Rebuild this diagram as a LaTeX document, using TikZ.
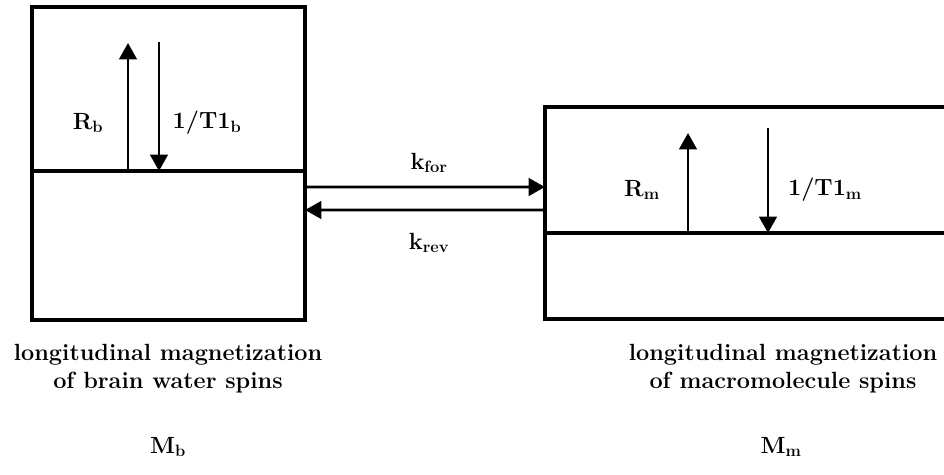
\documentclass[tikz,border=0pt]{standalone}
\usepackage{tikz}
\usetikzlibrary{arrows.meta, positioning, calc}

\tikzset{
    pool/.style={draw, line width=3.2pt, inner sep=0pt, outer sep=0pt},
    rate/.style={line width=2.4pt, -{Triangle[width=15pt, length=14pt]}},
    lbl/.style={font=\fontsize{20}{24}\selectfont\bfseries}
}

\begin{document}
\begin{tikzpicture}[x=0.03cm, y=-0.03cm]
    \useasboundingbox (0,0) rectangle (944,475);

    % Brain water pool (left)
    \node[pool, minimum width=8.19cm, minimum height=4.92cm] (bwup) at (168.5,89) {};
    \node[pool, minimum width=8.19cm, minimum height=4.47cm] (bwlow) at (168.5,245.5) {};
    \coordinate (rb0) at (128,171);
    \coordinate (rb1) at (128,43);
    \coordinate (tb0) at (159,42);
    \coordinate (tb1) at (159,171);
    \draw[rate] (rb0) -- (rb1);
    \draw[rate] (tb0) -- (tb1);
    \node[lbl] (rblbl) at (88,123) {R\textsubscript{b}};
    \node[lbl] (tblbl) at (207,123) {1/T1\textsubscript{b}};

    % Macromolecule pool (right) - runs off the right edge
    \node[pool, minimum width=12.3cm, minimum height=3.78cm] (mmup) at (750,170) {};
    \node[pool, minimum width=12.3cm, minimum height=2.58cm] (mmlow) at (750,276) {};
    \coordinate (rm0) at (688,233);
    \coordinate (rm1) at (688,133);
    \coordinate (tm0) at (768,128);
    \coordinate (tm1) at (768,233);
    \draw[rate] (rm0) -- (rm1);
    \draw[rate] (tm0) -- (tm1);
    \node[lbl] (rmlbl) at (642,190) {R\textsubscript{m}};
    \node[lbl] (tmlbl) at (825,190) {1/T1\textsubscript{m}};

    % Exchange between pools
    \coordinate (kf0) at ($(bwlow.north east)+(0,16)$);
    \coordinate (kf1) at ($(mmup.south west)+(0,-46)$);
    \coordinate (kr0) at ($(mmup.south west)+(0,-23)$);
    \coordinate (kr1) at ($(bwlow.north east)+(0,39)$);
    \draw[rate] (kf0) -- (kf1);
    \draw[rate] (kr0) -- (kr1);
    \node[lbl] (kforlbl) at (429,163) {k\textsubscript{for}};
    \node[lbl] (krevlbl) at (429,243) {k\textsubscript{rev}};

    % Captions
    \node[lbl, align=center] (bwcap) at (168,369) {longitudinal magnetization\\of brain water spins};
    \node[lbl] (bwname) at (168,447) {M\textsubscript{b}};
    \node[lbl, align=center] (mmcap) at (783,369) {longitudinal magnetization\\of macromolecule spins};
    \node[lbl] (mmname) at (781,447) {M\textsubscript{m}};
\end{tikzpicture}
\end{document}
